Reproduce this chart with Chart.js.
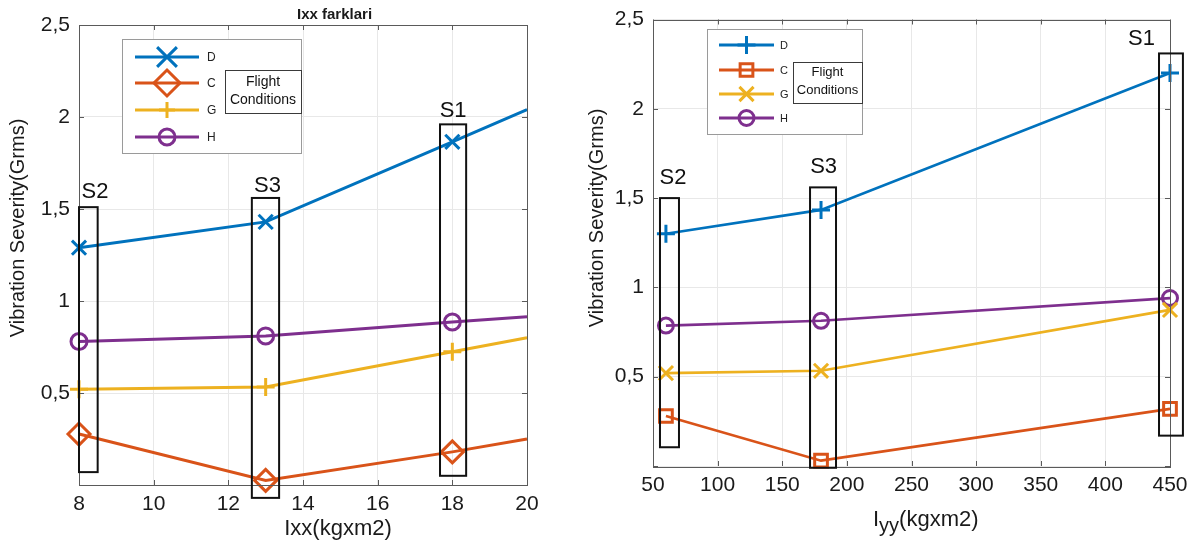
<!DOCTYPE html>
<html>
<head>
<meta charset="utf-8">
<script src="https://cdn.jsdelivr.net/npm/chart.js@4.4.0/dist/chart.umd.min.js"></script>
<style>
html, body { margin: 0; padding: 0; background: #fff; }
#wrap { position: relative; width: 1201px; height: 545px; overflow: hidden; }
#c1 { position: absolute; left: 0; top: 0; }
#c2 { position: absolute; left: 585px; top: 0; }
</style>
</head>
<body>
<div id="wrap">
<canvas id="c1" width="585" height="545"></canvas>
<canvas id="c2" width="616" height="545"></canvas>
</div>
<script>
// series names (flight conditions)
var names = ['D', 'C', 'G', 'H'];

// left plot: Ixx
var ixx = [8, 13, 18, 20];
var ixxD = [1.29, 1.43, 1.865, 2.04];
var ixxC = [0.277, 0.025, 0.18, 0.25];
var ixxG = [0.52, 0.533, 0.724, 0.80];
var ixxH = [0.78, 0.81, 0.886, 0.915];
var ixxTicks = [8, 10, 12, 14, 16, 18, 20];

// right plot: Iyy
var iyy = [60, 180, 450];
var iyyD = [1.30, 1.434, 2.20];
var iyyC = [0.28, 0.03, 0.32];
var iyyG = [0.52, 0.533, 0.874];
var iyyH = [0.786, 0.813, 0.94];
var iyyTicks = [50, 100, 150, 200, 250, 300, 350, 400, 450];

// S-boxes in data units: label, x0, x1, y0, y1, label x, label y
var ixxBoxes = [
  ['S2', 8.0, 8.5, 0.07, 1.51, 8.43, 1.56],
  ['S3', 12.63, 13.36, -0.07, 1.56, 13.05, 1.59],
  ['S1', 17.67, 18.37, 0.05, 1.96, 18.02, 2.0]
];
var iyyBoxes = [
  ['S2', 55.4, 70.1, 0.105, 1.5, 65.5, 1.58],
  ['S3', 171.5, 191.6, -0.01, 1.56, 182, 1.643],
  ['S1', 441.5, 460, 0.17, 2.31, 428, 2.357]
];

var colors = ['#0072BD', '#D95319', '#EDB120', '#7E2F8E'];
var FONT = "'Liberation Sans', Arial, Helvetica, sans-serif";

function pts(xs, ys) {
  return xs.map(function (x, i) { return { x: x, y: ys[i] }; });
}

function marker(ctx, style, x, y, r) {
  ctx.beginPath();
  if (style === 'circle') {
    ctx.arc(x, y, r, 0, Math.PI * 2);
  } else if (style === 'cross') {
    ctx.moveTo(x - r, y); ctx.lineTo(x + r, y);
    ctx.moveTo(x, y - r); ctx.lineTo(x, y + r);
  } else if (style === 'crossRot') {
    var d = r * Math.SQRT1_2;
    ctx.moveTo(x - d, y - d); ctx.lineTo(x + d, y + d);
    ctx.moveTo(x - d, y + d); ctx.lineTo(x + d, y - d);
  } else if (style === 'rectRot') {
    ctx.moveTo(x, y - r); ctx.lineTo(x + r, y); ctx.lineTo(x, y + r); ctx.lineTo(x - r, y); ctx.closePath();
  } else if (style === 'rect') {
    var s = r * Math.SQRT1_2;
    ctx.rect(x - s, y - s, 2 * s, 2 * s);
  }
  ctx.stroke();
}

function decoPlugin(cfg) {
  return {
    id: 'deco',
    afterDatasetsDraw: function (chart) {
      var ctx = chart.ctx, a = chart.chartArea;
      var xs = chart.scales.x, ys = chart.scales.y;
      ctx.save();

      // axes box + inward ticks
      ctx.strokeStyle = '#5a5a5a';
      ctx.lineWidth = 1;
      ctx.strokeRect(Math.round(a.left) + 0.5, Math.round(a.top) + 0.5,
        Math.round(a.right - a.left), Math.round(a.bottom - a.top));
      ctx.beginPath();
      xs.ticks.forEach(function (t) {
        var px = Math.round(xs.getPixelForValue(t.value)) + 0.5;
        ctx.moveTo(px, a.bottom); ctx.lineTo(px, a.bottom - 5);
        ctx.moveTo(px, a.top); ctx.lineTo(px, a.top + 5);
      });
      ys.ticks.forEach(function (t) {
        var py = Math.round(ys.getPixelForValue(t.value)) + 0.5;
        ctx.moveTo(a.left, py); ctx.lineTo(a.left + 5, py);
        ctx.moveTo(a.right, py); ctx.lineTo(a.right - 5, py);
      });
      ctx.stroke();

      // S boxes and their labels
      ctx.strokeStyle = '#111';
      ctx.lineWidth = 2;
      ctx.fillStyle = '#111';
      ctx.font = '22px ' + FONT;
      ctx.textAlign = 'center';
      ctx.textBaseline = 'alphabetic';
      cfg.boxes.forEach(function (b) {
        var x0 = xs.getPixelForValue(b[1]), x1 = xs.getPixelForValue(b[2]);
        var y0 = ys.getPixelForValue(b[3]), y1 = ys.getPixelForValue(b[4]);
        ctx.strokeRect(x0, y1, x1 - x0, y0 - y1);
        ctx.fillText(b[0], xs.getPixelForValue(b[5]), ys.getPixelForValue(b[6]));
      });

      // legend
      var L = cfg.legend;
      ctx.fillStyle = '#fff';
      ctx.fillRect(L.x, L.y, L.w, L.h);
      ctx.strokeStyle = '#9a9a9a';
      ctx.lineWidth = 1;
      ctx.strokeRect(L.x + 0.5, L.y + 0.5, L.w, L.h);
      chart.data.datasets.forEach(function (ds, i) {
        var yy = L.rows[i];
        ctx.strokeStyle = ds.borderColor;
        ctx.lineWidth = L.lw;
        ctx.beginPath();
        ctx.moveTo(L.lx0, yy); ctx.lineTo(L.lx1, yy);
        ctx.stroke();
        marker(ctx, ds.pointStyle, (L.lx0 + L.lx1) / 2, yy, L.mr[i]);
        ctx.fillStyle = '#222';
        ctx.font = L.fs + 'px ' + FONT;
        ctx.textAlign = 'left';
        ctx.textBaseline = 'middle';
        ctx.fillText(ds.label, L.tx, yy + 1);
      });
      var F = cfg.fc;
      ctx.fillStyle = '#fff';
      ctx.fillRect(F.x, F.y, F.w, F.h);
      ctx.strokeStyle = '#3a3a3a';
      ctx.lineWidth = 1;
      ctx.strokeRect(F.x + 0.5, F.y + 0.5, F.w, F.h);
      ctx.fillStyle = '#111';
      ctx.font = F.fs + 'px ' + FONT;
      ctx.textAlign = 'center';
      ctx.fillText('Flight', F.x + F.w / 2, F.l1);
      ctx.fillText('Conditions', F.x + F.w / 2, F.l2);

      // axis titles
      ctx.fillStyle = '#1a1a1a';
      ctx.font = '20px ' + FONT;
      ctx.save();
      ctx.translate(cfg.ytitle[0], cfg.ytitle[1]);
      ctx.rotate(-Math.PI / 2);
      ctx.textAlign = 'center';
      ctx.textBaseline = 'middle';
      ctx.fillText('Vibration Severity(Grms)', 0, 0);
      ctx.restore();
      cfg.xtitle(ctx);

      ctx.restore();
    }
  };
}

function yCallback(v) {
  return v === 0 ? '' : String(v).replace('.', ',');
}

function makeChart(id, xvals, series, styles, radii, lw, xmin, xmax, xstep, yW, xH, xpad, pad, cfg) {
  var datasets = series.map(function (s, i) {
    var r = xvals.map(function (x, j) { return (j < 3) ? radii[i] : 0; });
    return {
      label: names[i],
      data: pts(xvals, s),
      borderColor: colors[i],
      backgroundColor: 'rgba(0,0,0,0)',
      borderWidth: lw,
      pointStyle: styles[i],
      pointRadius: r,
      pointBorderWidth: 3,
      pointBorderColor: colors[i],
      pointBackgroundColor: 'rgba(0,0,0,0)',
      tension: 0,
      clip: false
    };
  });
  return new Chart(document.getElementById(id), {
    type: 'line',
    data: { datasets: datasets },
    options: {
      responsive: false,
      animation: false,
      layout: { padding: pad },
      plugins: { legend: { display: false }, tooltip: { enabled: false }, title: { display: false } },
      scales: {
        x: {
          type: 'linear',
          min: xmin, max: xmax,
          afterFit: function (s) { s.height = xH; },
          ticks: { stepSize: xstep, color: '#1a1a1a', font: { family: FONT, size: 21 }, padding: xpad, maxRotation: 0, autoSkip: false },
          grid: { color: '#e8e8e8', drawTicks: false },
          border: { display: false }
        },
        y: {
          type: 'linear',
          min: 0, max: 2.5,
          afterFit: function (s) { s.width = yW; },
          ticks: { stepSize: 0.5, color: '#1a1a1a', font: { family: FONT, size: 21, lineHeight: 1 }, padding: 9, callback: yCallback },
          grid: { color: '#e8e8e8', drawTicks: false },
          border: { display: false }
        }
      }
    },
    plugins: [decoPlugin(cfg)]
  });
}

// left chart
makeChart('c1', ixx, [ixxD, ixxC, ixxG, ixxH],
  ['crossRot', 'rectRot', 'cross', 'circle'], [10, 11, 9, 8], 3,
  8, 20, 2, 79, 60, 7, { left: 0, top: 25, right: 58, bottom: 0 },
  {
    boxes: ixxBoxes,
    legend: { x: 122, y: 39, w: 179, h: 114, lx0: 135, lx1: 199, tx: 207, rows: [57, 83, 110, 137], mr: [14, 13, 8, 8], lw: 3, fs: 12 },
    fc: { x: 225, y: 70, w: 76, h: 43, fs: 14, l1: 82, l2: 100 },
    ytitle: [18, 228],
    xtitle: function (ctx) {
      ctx.font = '22px ' + FONT;
      ctx.textAlign = 'center';
      ctx.textBaseline = 'middle';
      ctx.fillText('Ixx(kgxm2)', 338, 529);
      ctx.font = 'bold 15px ' + FONT;
      ctx.textAlign = 'left';
      ctx.fillText('Ixx farklari', 297, 15);
    }
  });

// right chart
makeChart('c2', iyy, [iyyD, iyyC, iyyG, iyyH],
  ['cross', 'rect', 'crossRot', 'circle'], [9, 9, 10, 7.5], 2.6,
  50, 450, 50, 68, 79, 7, { left: 0, top: 11, right: 31, bottom: 0 },
  {
    boxes: iyyBoxes,
    legend: { x: 707 - 585, y: 29, w: 155, h: 105, lx0: 719 - 585, lx1: 774 - 585, tx: 780 - 585, rows: [45, 70, 94, 118], mr: [9, 9, 10, 7.5], lw: 3, fs: 11 },
    fc: { x: 793 - 585, y: 62, w: 69, h: 41, fs: 13, l1: 72, l2: 90 },
    ytitle: [12, 218],
    xtitle: function (ctx) {
      var x = 873 - 585, y = 520;
      ctx.textAlign = 'left';
      ctx.textBaseline = 'middle';
      ctx.font = '22px ' + FONT;
      ctx.fillText('I', x, y);
      x += ctx.measureText('I').width;
      ctx.font = '20px ' + FONT;
      ctx.fillText('yy', x, y + 6);
      x += ctx.measureText('yy').width;
      ctx.font = '22px ' + FONT;
      ctx.fillText('(kgxm2)', x, y);
    }
  });
</script>
</body>
</html>
